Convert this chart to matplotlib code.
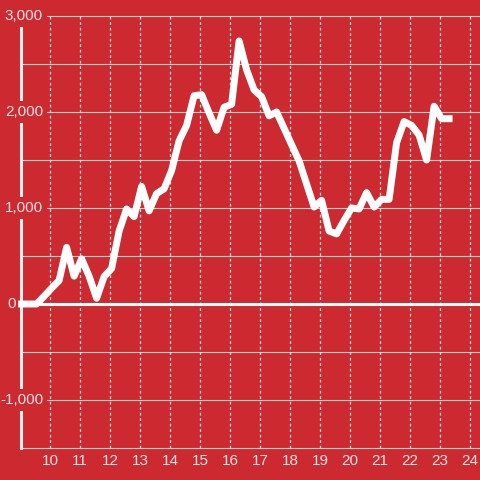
import numpy as np
import matplotlib
matplotlib.use('Agg')
import matplotlib.pyplot as plt

# Data
hours = [9.05, 9.3, 9.55, 9.8, 10.05, 10.3, 10.55, 10.8, 11.05, 11.3,
         11.55, 11.8, 12.05, 12.3, 12.55, 12.8, 13.05, 13.3, 13.55, 13.8,
         14.05, 14.3, 14.55, 14.8, 15.05, 15.3, 15.55, 15.8, 16.05, 16.3,
         16.55, 16.8, 17.05, 17.3, 17.55, 17.8, 18.05, 18.3, 18.55, 18.8,
         19.05, 19.3, 19.55, 19.8, 20.05, 20.3, 20.55, 20.8, 21.05, 21.3,
         21.55, 21.8, 22.05, 22.3, 22.55, 22.8, 23.05, 23.3]
values = [0, 0, 0, 80, 165, 245, 590, 290, 470, 290,
          60, 285, 370, 760, 990, 910, 1225, 970, 1150, 1200,
          1390, 1700, 1860, 2170, 2180, 1990, 1810, 2050, 2080, 2740,
          2440, 2230, 2160, 1960, 2000, 1830, 1660, 1490, 1250, 1010,
          1080, 760, 730, 870, 1000, 990, 1160, 1010, 1090, 1090,
          1680, 1900, 1860, 1760, 1500, 2060, 1930, 1930]
x_ticks = list(range(10, 25))
y_grid = [-1500, -1000, -500, 0, 500, 1000, 1500, 2000, 2500, 3000]
y_labels = [-1000, 0, 1000, 2000, 3000]

bg = '#cc2a30'
txt = '#f4e4e4'
plt.rcParams['font.family'] = ['Liberation Sans', 'DejaVu Sans']

fig = plt.figure(figsize=(4.8, 4.8), dpi=100, facecolor=bg)
ax = fig.add_axes([21 / 480, 32 / 480, 459 / 480, 432 / 480])
ax.set_facecolor(bg)
ax.set_xlim(9.03, 24.33)
ax.set_ylim(-1500, 3000)

for s in ['top', 'right', 'bottom']:
    ax.spines[s].set_visible(False)
ax.spines['left'].set_color('#f4f0f0')
ax.spines['left'].set_linewidth(2.2)
ax.spines['left'].set_zorder(3)

# grid
for y in y_grid:
    if y == 0:
        ax.axhline(y, color='white', lw=2.2, zorder=2)
    else:
        ax.axhline(y, color='#cfcfcf', lw=0.8, zorder=1, clip_on=False)
for x in x_ticks:
    ax.axvline(x, color='#e6e0e0', lw=0.9, ls=(0, (2.2, 2.2)), zorder=1)

ax.plot(hours, values, color='white', lw=5, solid_capstyle='projecting',
        solid_joinstyle='round', zorder=4, clip_on=False)

# ticks
ax.set_xticks(x_ticks)
ax.set_xticklabels([str(x) for x in x_ticks])
ax.tick_params(axis='x', length=0, pad=4.5, labelsize=11, labelcolor=txt)
ax.set_yticks([])

ytr = ax.get_yaxis_transform()
for y in y_labels:
    if y == 0:
        ax.text(-0.011, y, '0', transform=ytr, ha='right', va='center',
                fontsize=11, color=txt, zorder=6, clip_on=False)
    else:
        ax.text(0.048, y, f'{y:,}', transform=ytr, ha='right', va='center',
                fontsize=11, color=txt, zorder=6, clip_on=False,
                bbox=dict(facecolor=bg, edgecolor='none', pad=2.5))

fig.savefig('out.png', dpi=100, facecolor=bg)
